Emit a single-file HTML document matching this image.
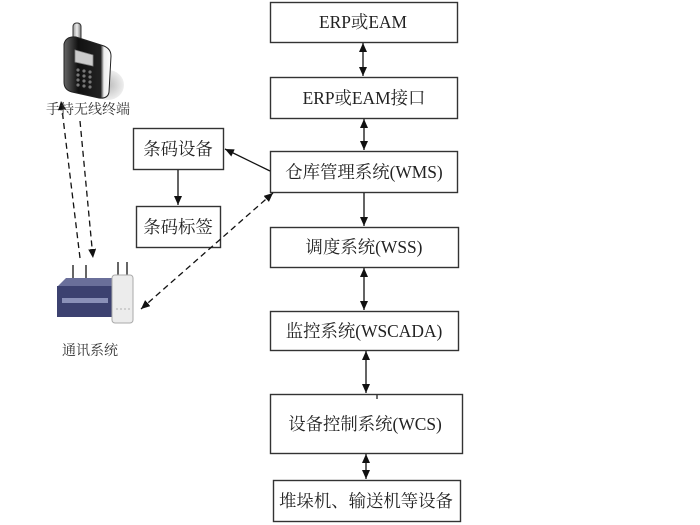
<!DOCTYPE html>
<html>
<head>
<meta charset="utf-8">
<style>
  html,body{margin:0;padding:0;background:#fff;}
  body{width:700px;height:525px;overflow:hidden;}
  svg{display:block;}
  .t{font-family:"Liberation Serif","Noto Serif CJK SC",serif;font-size:17.4px;fill:#222;text-anchor:middle;}
  .s{font-family:"Liberation Serif","Noto Serif CJK SC",serif;fill:#333;text-anchor:middle;}
</style>
</head>
<body>
<svg width="700" height="525" viewBox="0 0 700 525" xmlns="http://www.w3.org/2000/svg">
  <defs>
    <marker id="ah" markerUnits="userSpaceOnUse" markerWidth="10" markerHeight="8" refX="9" refY="4" orient="auto">
      <path d="M0,0 L9,4 L0,8 Z" fill="#111"/>
    </marker>
    <marker id="as" markerUnits="userSpaceOnUse" markerWidth="10" markerHeight="8" refX="1" refY="4" orient="auto">
      <path d="M10,0 L1,4 L10,8 Z" fill="#111"/>
    </marker>
    <linearGradient id="pg" x1="0" y1="0" x2="1" y2="0">
      <stop offset="0" stop-color="#666"/>
      <stop offset="0.3" stop-color="#111"/>
      <stop offset="0.78" stop-color="#222"/>
      <stop offset="0.85" stop-color="#eee"/>
      <stop offset="1" stop-color="#fff"/>
    </linearGradient>
    <linearGradient id="ag" x1="0" y1="0" x2="1" y2="0">
      <stop offset="0" stop-color="#999"/>
      <stop offset="0.5" stop-color="#eee"/>
      <stop offset="1" stop-color="#777"/>
    </linearGradient>
    <radialGradient id="sh" cx="0.5" cy="0.5" r="0.5">
      <stop offset="0" stop-color="#bbb"/>
      <stop offset="1" stop-color="#eee"/>
    </radialGradient>
  </defs>

  <g fill="none" stroke="#333" stroke-width="1.4">
    <rect x="270.5" y="2.5" width="187" height="40"/>
    <rect x="270.5" y="77.5" width="187" height="41"/>
    <rect x="270.5" y="151.5" width="187" height="41"/>
    <rect x="270.5" y="227.5" width="188" height="40"/>
    <rect x="270.5" y="311.5" width="188" height="39"/>
    <rect x="270.5" y="394.5" width="192" height="59"/>
    <rect x="273.5" y="480.5" width="187" height="41"/>
    <rect x="133.5" y="128.5" width="90" height="41"/>
    <rect x="136.5" y="206.5" width="84" height="41"/>
    <line x1="377" y1="394" x2="377" y2="399"/>
  </g>

  <g class="t">
    <text x="363" y="28">ERP或EAM</text>
    <text x="364" y="104">ERP或EAM接口</text>
    <text x="364" y="178">仓库管理系统(WMS)</text>
    <text x="364" y="253">调度系统(WSS)</text>
    <text x="364" y="337">监控系统(WSCADA)</text>
    <text x="365" y="430">设备控制系统(WCS)</text>
    <text x="366" y="507">堆垛机、输送机等设备</text>
    <text x="178" y="155">条码设备</text>
    <text x="178" y="233">条码标签</text>
  </g>

  <!-- main column connectors -->
  <g stroke="#111" stroke-width="1.3" fill="none">
    <line x1="363" y1="43" x2="363" y2="76" marker-start="url(#as)" marker-end="url(#ah)"/>
    <line x1="364" y1="119" x2="364" y2="150" marker-start="url(#as)" marker-end="url(#ah)"/>
    <line x1="364" y1="193" x2="364" y2="226" marker-end="url(#ah)"/>
    <line x1="364" y1="268" x2="364" y2="310" marker-start="url(#as)" marker-end="url(#ah)"/>
    <line x1="366" y1="351" x2="366" y2="393" marker-start="url(#as)" marker-end="url(#ah)"/>
    <line x1="366" y1="454" x2="366" y2="479" marker-start="url(#as)" marker-end="url(#ah)"/>
    <line x1="178" y1="170" x2="178" y2="205" marker-end="url(#ah)"/>
    <line x1="270" y1="171" x2="225" y2="149" marker-end="url(#ah)"/>
  </g>

  <!-- dashed connectors -->
  <g stroke="#111" stroke-width="1.3" fill="none" stroke-dasharray="6,4">
    <line x1="273" y1="193" x2="141" y2="309" marker-start="url(#as)" marker-end="url(#ah)"/>
    <line x1="80" y1="258" x2="61" y2="101" marker-end="url(#ah)"/>
    <line x1="80" y1="121" x2="93" y2="258" marker-end="url(#ah)"/>
  </g>

  <!-- handheld terminal -->
  <ellipse cx="108" cy="85" rx="16" ry="15" fill="url(#sh)"/>
  <rect x="73" y="23" width="8" height="19" rx="3.5" fill="url(#ag)" stroke="#333" stroke-width="1"/>
  <path d="M64,44 Q66,36 76,37 L104,46 Q111,49 111,56 L109,92 Q108,99 99,98 L72,92 Q64,90 64,82 Z" fill="url(#pg)" stroke="#222" stroke-width="1"/>
  <path d="M75,50 L93,55 L93,66 L75,62 Z" fill="#ccc" stroke="#888" stroke-width="0.8"/>
  <g fill="#777">
    <circle cx="78" cy="70" r="1.6"/><circle cx="84" cy="71" r="1.6"/><circle cx="90" cy="72" r="1.6"/>
    <circle cx="78" cy="75" r="1.6"/><circle cx="84" cy="76" r="1.6"/><circle cx="90" cy="77" r="1.6"/>
    <circle cx="78" cy="80" r="1.6"/><circle cx="84" cy="81" r="1.6"/><circle cx="90" cy="82" r="1.6"/>
    <circle cx="78" cy="85" r="1.6"/><circle cx="84" cy="86" r="1.6"/><circle cx="90" cy="87" r="1.6"/>
  </g>
  <text class="s" x="88" y="114" style="font-size:14px">手持无线终端</text>

  <!-- communication system -->
  <g stroke="#333" stroke-width="1.5">
    <line x1="73" y1="265" x2="73" y2="281"/>
    <line x1="86" y1="265" x2="86" y2="281"/>
    <line x1="118" y1="262" x2="118" y2="278"/>
    <line x1="127" y1="262" x2="127" y2="278"/>
  </g>
  <path d="M57,287 L66,278 L113,278 L113,288 Z" fill="#6a6f9a"/>
  <rect x="57" y="286" width="56" height="31" fill="#3c4170"/>
  <rect x="62" y="298" width="46" height="5" fill="#8a90b8"/>
  <rect x="112" y="275" width="21" height="48" rx="3" fill="#ececec" stroke="#aaa" stroke-width="1"/>
  <g fill="#bbb"><circle cx="117" cy="309" r="0.9"/><circle cx="121" cy="309" r="0.9"/><circle cx="125" cy="309" r="0.9"/><circle cx="129" cy="309" r="0.9"/></g>
  <text class="s" x="90" y="355" style="font-size:14px">通讯系统</text>
</svg>
</body>
</html>
